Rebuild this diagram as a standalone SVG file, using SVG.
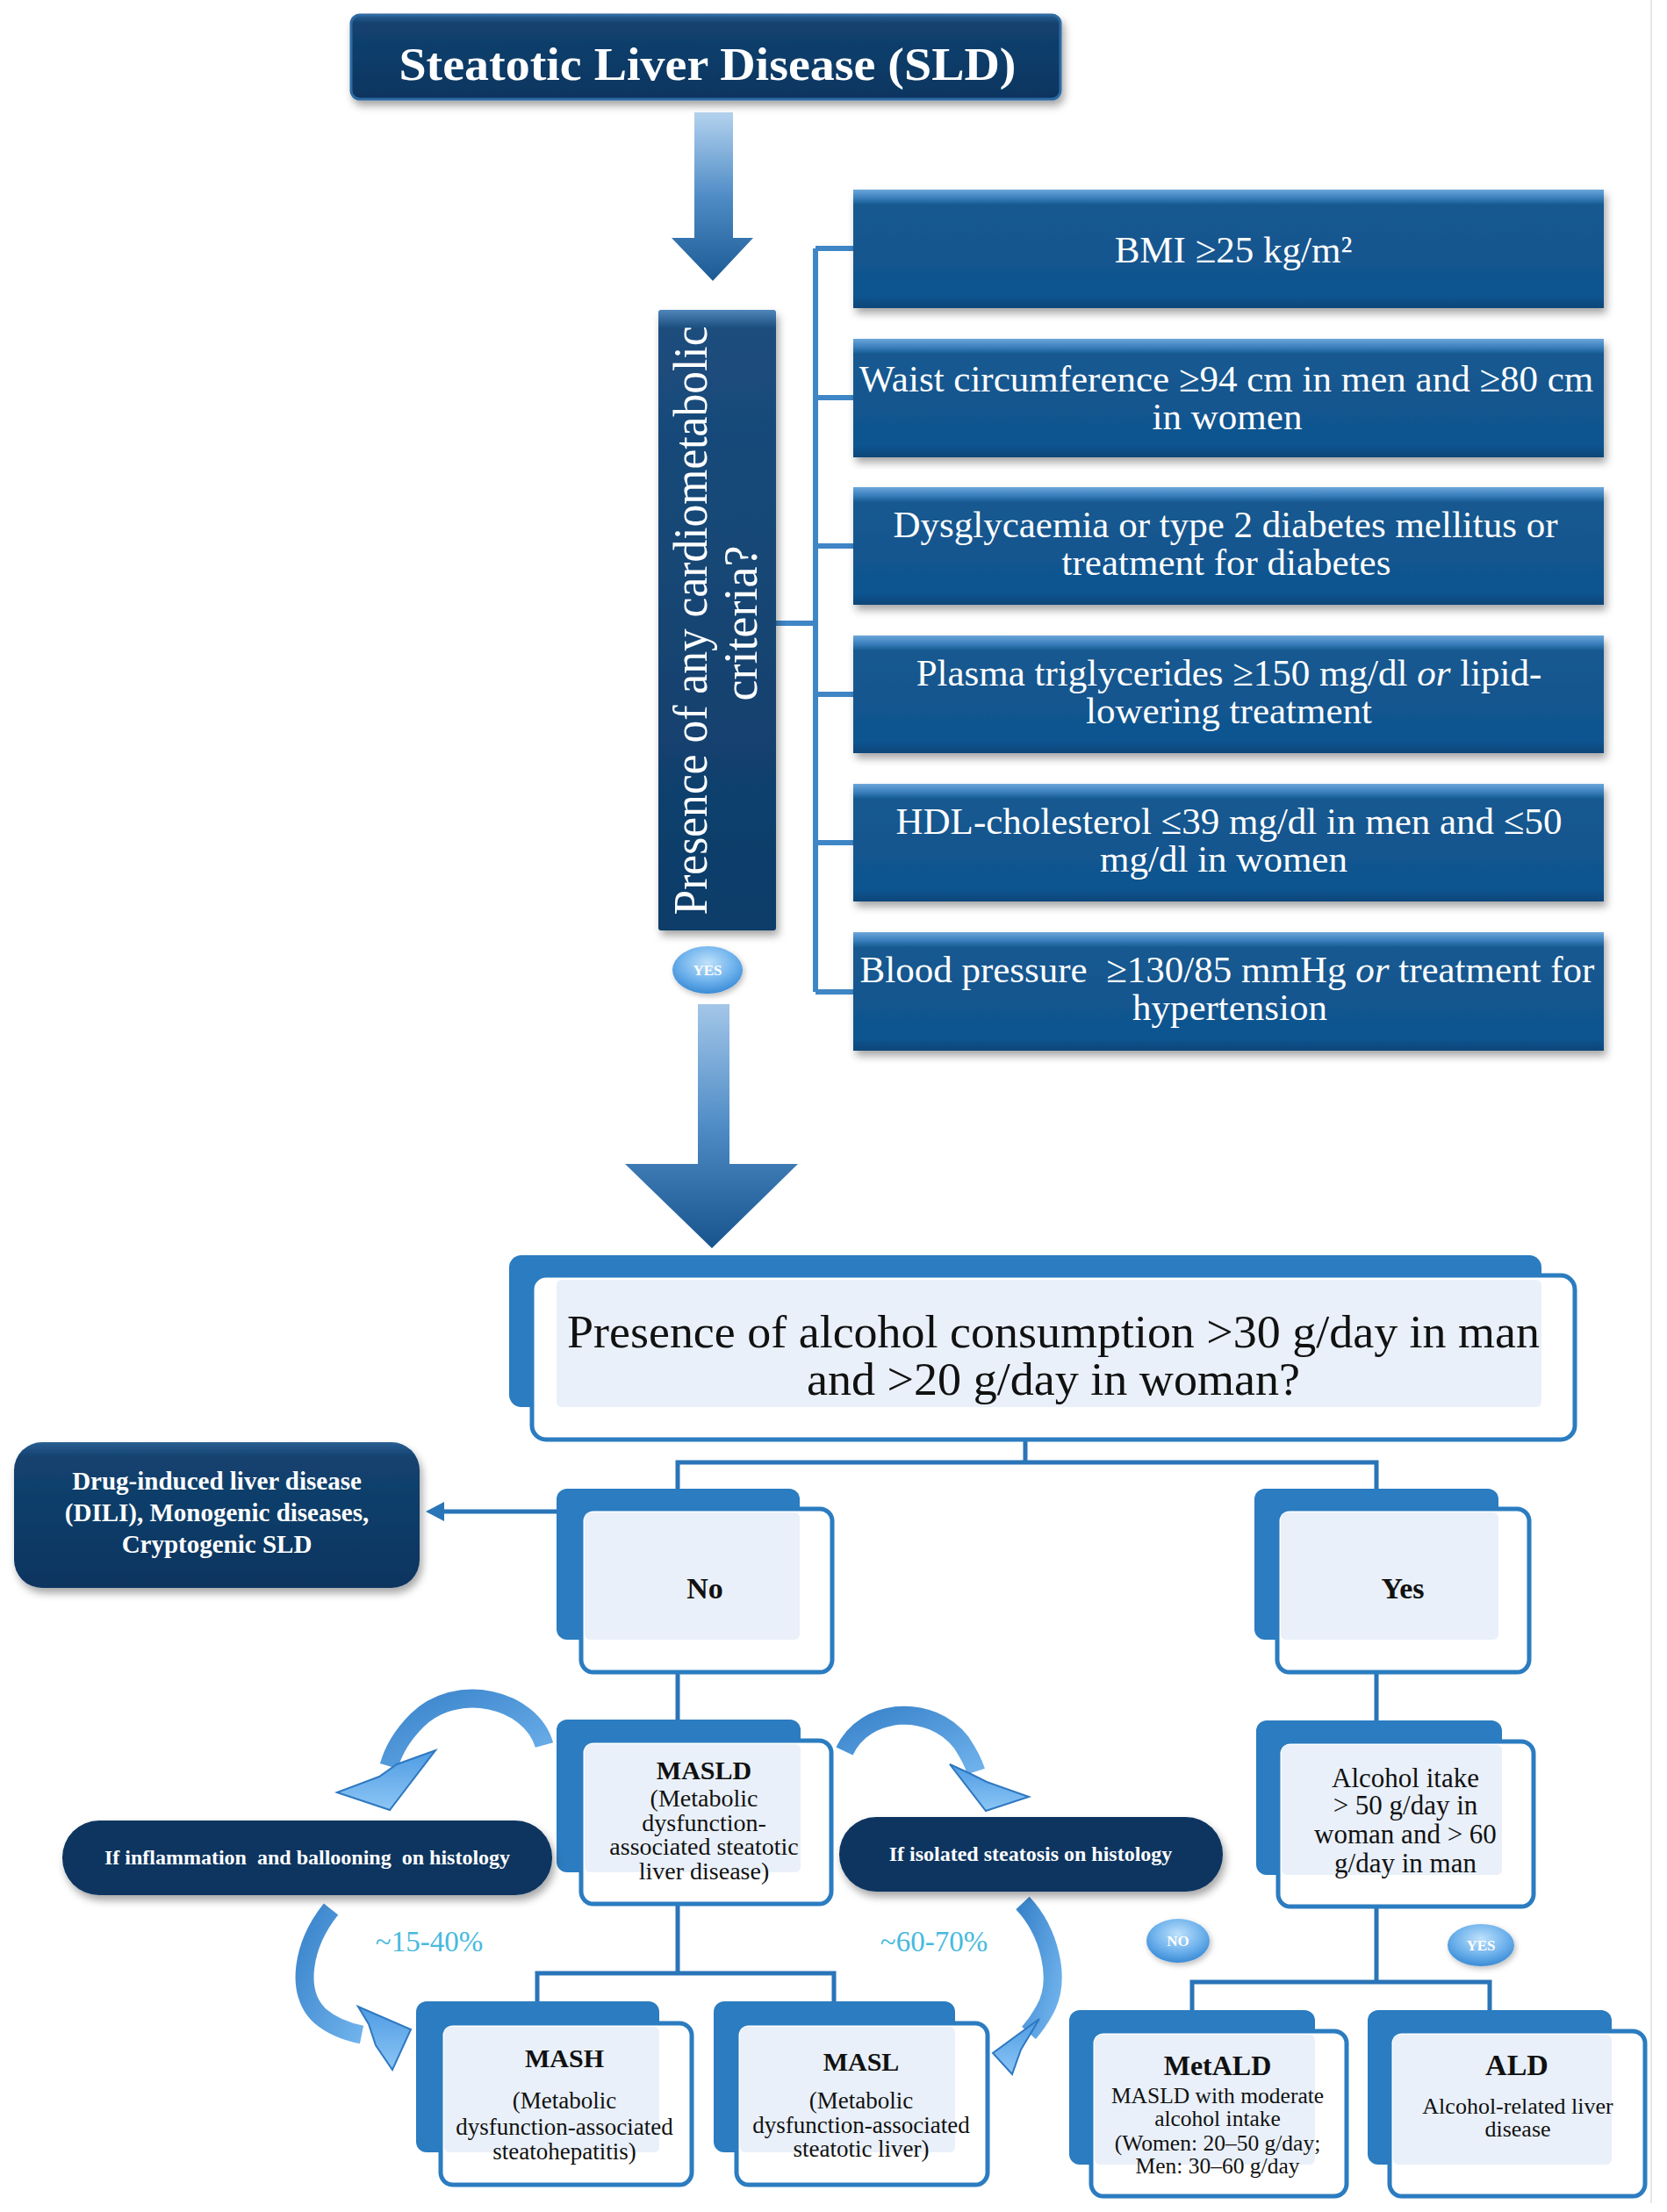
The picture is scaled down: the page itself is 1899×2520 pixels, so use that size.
<svg xmlns="http://www.w3.org/2000/svg" width="1899" height="2520" viewBox="0 0 1899 2520">
<defs>
<filter id="sh" x="-10%" y="-10%" width="125%" height="140%"><feDropShadow dx="3" dy="6" stdDeviation="5" flood-color="#000" flood-opacity="0.35"/></filter>
<filter id="shs" x="-10%" y="-10%" width="125%" height="140%"><feDropShadow dx="2" dy="3" stdDeviation="3" flood-color="#000" flood-opacity="0.25"/></filter>
<linearGradient id="gCrit" x1="0" y1="0" x2="0" y2="1">
<stop offset="0" stop-color="#6ba6da"/><stop offset="0.07" stop-color="#3a7fbd"/><stop offset="0.13" stop-color="#15598f"/><stop offset="0.9" stop-color="#105490"/><stop offset="1" stop-color="#0b4678"/>
</linearGradient>
<linearGradient id="gNavy" x1="0" y1="0" x2="0" y2="1">
<stop offset="0" stop-color="#2a5f93"/><stop offset="0.1" stop-color="#13426f"/><stop offset="1" stop-color="#0a3560"/>
</linearGradient>
<linearGradient id="gVert" x1="0" y1="0" x2="0" y2="1">
<stop offset="0" stop-color="#4f86bb"/><stop offset="0.03" stop-color="#1b4d7d"/><stop offset="1" stop-color="#0e3c68"/>
</linearGradient>
<linearGradient id="gArr1" gradientUnits="userSpaceOnUse" x1="0" y1="128" x2="0" y2="320">
<stop offset="0" stop-color="#b3d2ee"/><stop offset="0.5" stop-color="#4f8cc6"/><stop offset="1" stop-color="#1b5a95"/>
</linearGradient>
<linearGradient id="gArr2" gradientUnits="userSpaceOnUse" x1="0" y1="1144" x2="0" y2="1422">
<stop offset="0" stop-color="#a3c6e8"/><stop offset="0.5" stop-color="#4f8cc6"/><stop offset="1" stop-color="#17548e"/>
</linearGradient>
<linearGradient id="gCurve" x1="0" y1="0" x2="1" y2="1">
<stop offset="0" stop-color="#3a84cb"/><stop offset="1" stop-color="#6fb2ec"/>
</linearGradient>
<linearGradient id="gHead" x1="0" y1="0" x2="0" y2="1">
<stop offset="0" stop-color="#4e9be3"/><stop offset="1" stop-color="#8cc6f5"/>
</linearGradient>
<radialGradient id="gBub" cx="0.5" cy="0.35" r="0.65">
<stop offset="0" stop-color="#bfe1fb"/><stop offset="0.6" stop-color="#6eb2ec"/><stop offset="1" stop-color="#3b8bd6"/>
</radialGradient>
<style>
.crit{fill:url(#gCrit);filter:url(#sh);}
.ct{font-family:"Liberation Serif",serif;font-size:43px;fill:#fff;text-anchor:middle;}
.back{fill:#2b7cc0;}
.front{fill:#fff;stroke:#2b7cc0;stroke-width:5;}
.pale{fill:#e9f0f9;}
.conn{stroke:#2a74b8;stroke-width:5;fill:none;}
.brk{stroke:#3f86c6;stroke-width:6;fill:none;}
.bt{font-family:"Liberation Serif",serif;fill:#111;text-anchor:middle;}
.b{font-weight:bold;}
.wt{font-family:"Liberation Serif",serif;fill:#fff;text-anchor:middle;font-weight:bold;}
.pill{fill:#0b3561;filter:url(#sh);}
.cbody{fill:none;stroke:url(#gCurve);stroke-width:21;}
.chead{fill:url(#gHead);stroke:#2f78c0;stroke-width:2;stroke-linejoin:miter;}
.pct{font-family:"Liberation Serif",serif;font-size:33px;fill:#47bade;text-anchor:middle;}
.bub{fill:url(#gBub);filter:url(#shs);}
.bubt{font-family:"Liberation Serif",serif;font-size:17px;font-weight:bold;fill:#fff;text-anchor:middle;}
</style>
</defs>
<rect width="1899" height="2520" fill="#fff"/>
<line x1="1881" y1="0" x2="1881" y2="2510" stroke="#e6e6e6" stroke-width="2"/>

<g id="connectors">
<line class="brk" x1="884" y1="710" x2="929" y2="710"/>
<line class="brk" x1="929" y1="283" x2="929" y2="1130"/>
<line class="brk" x1="929" y1="283" x2="972" y2="283"/>
<line class="brk" x1="929" y1="453" x2="972" y2="453"/>
<line class="brk" x1="929" y1="622" x2="972" y2="622"/>
<line class="brk" x1="929" y1="791" x2="972" y2="791"/>
<line class="brk" x1="929" y1="960" x2="972" y2="960"/>
<line class="brk" x1="929" y1="1130" x2="972" y2="1130"/>
<polygon id="arrow1" points="791,128 835,128 835,271 858,271 812,320 765,271 791,271" fill="url(#gArr1)"/>
<polygon id="arrow2" points="795,1144 831,1144 831,1326 909,1326 811,1422 712,1326 795,1326" fill="url(#gArr2)"/>
<path class="conn" d="M1168 1640 V1666 M772 1698 V1666 H1568 V1698"/>
<path class="conn" d="M772 1905 V1961"/>
<path class="conn" d="M772 2169 V2248 M612 2282 V2248 H950 V2282"/>
<path class="conn" d="M1568 1905 V1962"/>
<path class="conn" d="M1568 2172 V2258 M1358 2292 V2258 H1697 V2292"/>
<line class="conn" x1="634" y1="1722" x2="500" y2="1722"/>
<polygon points="485,1722 506,1711 506,1733" fill="#2a74b8"/>
<path class="cbody" d="M620 1988 C605 1935 520 1915 475 1960 C455 1980 447 1998 443 2012"/>
<polygon class="chead" points="384,2042 444,2062 496,1994 452,2010 432,2024"/>
<path class="cbody" d="M962 1995 C985 1945 1060 1940 1095 1985 C1103 1997 1108 2006 1112 2018"/>
<polygon class="chead" points="1082,2010 1123,2063 1172,2047 1124,2030 1104,2020"/>
<path class="cbody" d="M377 2175 C345 2215 335 2270 365 2297 C378 2308 392 2314 412 2318"/>
<polygon class="chead" points="408,2286 468,2312 447,2358 428,2330 420,2306"/>
<path class="cbody" d="M1165 2168 C1195 2200 1210 2255 1190 2290 C1184 2301 1179 2308 1172 2316"/>
<polygon class="chead" points="1184,2300 1131,2339 1153,2363 1163,2335 1172,2320"/>
</g>

<g id="title">
<rect x="400" y="17" width="808" height="96" rx="10" fill="url(#gNavy)" stroke="#2d6aa3" stroke-width="3" filter="url(#sh)"/>
<text class="wt" x="806" y="91" font-size="52" textLength="703" lengthAdjust="spacingAndGlyphs">Steatotic Liver Disease (SLD)</text>
</g>

<g id="criteria-question">
<rect x="750" y="353" width="134" height="707" rx="3" fill="url(#gVert)" filter="url(#sh)"/>
<text transform="rotate(-90)" x="-707" y="805" font-family="Liberation Serif, serif" font-size="54" fill="#fff" text-anchor="middle" textLength="671" lengthAdjust="spacingAndGlyphs">Presence of any cardiometabolic</text>
<text transform="rotate(-90)" x="-710" y="862" font-family="Liberation Serif, serif" font-size="54" fill="#fff" text-anchor="middle">criteria?</text>
</g>

<g id="yes-top">
<ellipse class="bub" cx="806" cy="1105" rx="40" ry="27"/>
<text class="bubt" x="806" y="1111">YES</text>
</g>

<g id="crit-bmi">
<rect class="crit" x="972" y="216" width="855" height="135"/>
<text class="ct" x="1405" y="299">BMI ≥25 kg/m²</text>
</g>
<g id="crit-waist">
<rect class="crit" x="972" y="386" width="855" height="135"/>
<text class="ct" x="1397" y="446">Waist circumference ≥94 cm in men and ≥80 cm</text>
<text class="ct" x="1398" y="489">in women</text>
</g>
<g id="crit-glyc">
<rect class="crit" x="972" y="555" width="855" height="134"/>
<text class="ct" x="1396" y="612">Dysglycaemia or type 2 diabetes mellitus or</text>
<text class="ct" x="1397" y="655">treatment for diabetes</text>
</g>
<g id="crit-tg">
<rect class="crit" x="972" y="724" width="855" height="134"/>
<text class="ct" x="1400" y="781">Plasma triglycerides ≥150 mg/dl <tspan font-style="italic">or</tspan> lipid-</text>
<text class="ct" x="1400" y="824">lowering treatment</text>
</g>
<g id="crit-hdl">
<rect class="crit" x="972" y="893" width="855" height="134"/>
<text class="ct" x="1400" y="950">HDL-cholesterol ≤39 mg/dl in men and ≤50</text>
<text class="ct" x="1394" y="993">mg/dl in women</text>
</g>
<g id="crit-bp">
<rect class="crit" x="972" y="1062" width="855" height="135"/>
<text class="ct" x="1398" y="1119" style="white-space:pre">Blood pressure  ≥130/85 mmHg <tspan font-style="italic">or</tspan> treatment for</text>
<text class="ct" x="1401" y="1162">hypertension</text>
</g>

<g id="alcohol-question">
<rect class="back" x="580" y="1430" width="1176" height="173" rx="14"/>
<rect class="front" x="606" y="1453" width="1188" height="187" rx="16"/>
<rect class="pale" x="634" y="1458" width="1122" height="145" rx="6"/>
<text class="bt" x="1200" y="1535" font-size="52" textLength="1108" lengthAdjust="spacingAndGlyphs">Presence of alcohol consumption &gt;30 g/day in man</text>
<text class="bt" x="1200" y="1589" font-size="52" textLength="562" lengthAdjust="spacingAndGlyphs">and &gt;20 g/day in woman?</text>
</g>

<g id="dili">
<rect x="16" y="1643" width="462" height="166" rx="32" fill="url(#gNavy)" filter="url(#sh)"/>
<text class="wt" x="247" y="1697" font-size="29">Drug-induced liver disease</text>
<text class="wt" x="247" y="1733" font-size="29">(DILI), Monogenic diseases,</text>
<text class="wt" x="247" y="1769" font-size="29">Cryptogenic SLD</text>
</g>

<g id="no">
<rect class="back" x="634" y="1696" width="277" height="172" rx="12"/>
<rect class="front" x="662" y="1719" width="286" height="186" rx="14"/>
<rect class="pale" x="666" y="1723" width="245" height="145" rx="6"/>
<text class="bt b" x="803" y="1821" font-size="34">No</text>
</g>

<g id="yes">
<rect class="back" x="1429" y="1696" width="278" height="172" rx="12"/>
<rect class="front" x="1455" y="1719" width="287" height="186" rx="14"/>
<rect class="pale" x="1459" y="1723" width="248" height="145" rx="6"/>
<text class="bt b" x="1598" y="1821" font-size="34">Yes</text>
</g>

<g id="masld">
<rect class="back" x="634" y="1959" width="278" height="174" rx="12"/>
<rect class="front" x="662" y="1983" width="285" height="186" rx="14"/>
<rect class="pale" x="666" y="1987" width="246" height="146" rx="6"/>
<text class="bt b" x="802" y="2027" font-size="30">MASLD</text>
<text class="bt" x="802" y="2058" font-size="28">(Metabolic</text>
<text class="bt" x="802" y="2086" font-size="28">dysfunction-</text>
<text class="bt" x="802" y="2113" font-size="28">associated steatotic</text>
<text class="bt" x="802" y="2141" font-size="28">liver disease)</text>
</g>

<g id="pill-inflammation">
<rect class="pill" x="71" y="2074" width="558" height="85" rx="42"/>
<text class="wt" x="350" y="2124" font-size="24" style="white-space:pre">If inflammation  and ballooning  on histology</text>
</g>

<g id="pill-steatosis">
<rect class="pill" x="956" y="2070" width="437" height="85" rx="42"/>
<text class="wt" x="1174" y="2120" font-size="24">If isolated steatosis on histology</text>
</g>

<g id="pct">
<text class="pct" x="489" y="2223">~15-40%</text>
<text class="pct" x="1064" y="2223">~60-70%</text>
</g>

<g id="alcohol-intake">
<rect class="back" x="1431" y="1960" width="280" height="176" rx="12"/>
<rect class="front" x="1456" y="1984" width="291" height="188" rx="14"/>
<rect class="pale" x="1460" y="1988" width="251" height="148" rx="6"/>
<text class="bt" x="1601" y="2036" font-size="31">Alcohol itake</text>
<text class="bt" x="1601" y="2067" font-size="31">&gt; 50 g/day in</text>
<text class="bt" x="1601" y="2100" font-size="31">woman and &gt; 60</text>
<text class="bt" x="1601" y="2133" font-size="31">g/day in man</text>
</g>

<g id="no-bottom">
<ellipse class="bub" cx="1342" cy="2211" rx="36" ry="25"/>
<text class="bubt" x="1342" y="2217">NO</text>
</g>
<g id="yes-bottom">
<ellipse class="bub" cx="1687" cy="2216" rx="38" ry="24"/>
<text class="bubt" x="1687" y="2222">YES</text>
</g>

<g id="mash">
<rect class="back" x="474" y="2280" width="277" height="172" rx="12"/>
<rect class="front" x="502" y="2305" width="286" height="184" rx="14"/>
<rect class="pale" x="506" y="2309" width="245" height="143" rx="6"/>
<text class="bt b" x="643" y="2355" font-size="30">MASH</text>
<text class="bt" x="643" y="2402" font-size="27">(Metabolic</text>
<text class="bt" x="643" y="2432" font-size="27">dysfunction-associated</text>
<text class="bt" x="643" y="2460" font-size="27">steatohepatitis)</text>
</g>

<g id="masl">
<rect class="back" x="813" y="2280" width="275" height="172" rx="12"/>
<rect class="front" x="839" y="2305" width="286" height="184" rx="14"/>
<rect class="pale" x="843" y="2309" width="245" height="143" rx="6"/>
<text class="bt b" x="981" y="2359" font-size="30">MASL</text>
<text class="bt" x="981" y="2402" font-size="27">(Metabolic</text>
<text class="bt" x="981" y="2430" font-size="27">dysfunction-associated</text>
<text class="bt" x="981" y="2457" font-size="27">steatotic liver)</text>
</g>

<g id="metald">
<rect class="back" x="1218" y="2290" width="280" height="176" rx="12"/>
<rect class="front" x="1243" y="2314" width="291" height="188" rx="14"/>
<rect class="pale" x="1247" y="2318" width="251" height="148" rx="6"/>
<text class="bt b" x="1387" y="2364" font-size="32">MetALD</text>
<text class="bt" x="1387" y="2396" font-size="25.5">MASLD with moderate</text>
<text class="bt" x="1387" y="2422" font-size="25.5">alcohol intake</text>
<text class="bt" x="1387" y="2450" font-size="25.5">(Women: 20–50 g/day;</text>
<text class="bt" x="1387" y="2476" font-size="25.5">Men: 30–60 g/day</text>
</g>

<g id="ald">
<rect class="back" x="1558" y="2290" width="278" height="176" rx="12"/>
<rect class="front" x="1583" y="2314" width="291" height="188" rx="14"/>
<rect class="pale" x="1587" y="2318" width="249" height="148" rx="6"/>
<text class="bt b" x="1728" y="2364" font-size="34">ALD</text>
<text class="bt" x="1729" y="2408" font-size="26">Alcohol-related liver</text>
<text class="bt" x="1729" y="2434" font-size="26">disease</text>
</g>
</svg>
